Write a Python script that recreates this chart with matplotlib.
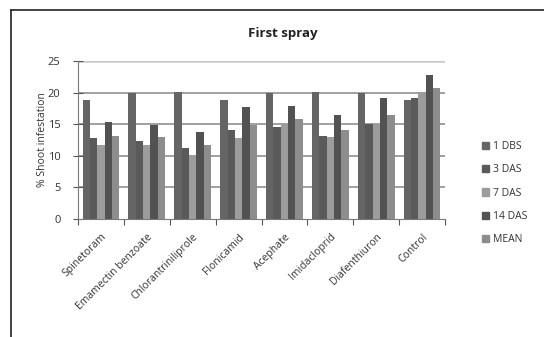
import matplotlib
matplotlib.use("Agg")
import matplotlib.pyplot as plt
import numpy as np
from matplotlib.lines import Line2D

categories = ["Spinetoram", "Emamectin benzoate", "Chlorantriniliprole", "Flonicamid",
              "Acephate", "Imidacloprid", "Diafenthiuron", "Control"]
series_names = ["1 DBS", "3 DAS", "7 DAS", "14 DAS", "MEAN"]
dbs1 = [18.9, 19.9, 20.1, 18.9, 19.9, 20.1, 19.9, 18.8]
das3 = [12.8, 12.3, 11.3, 14.1, 14.6, 13.2, 15.0, 19.2]
das7 = [11.7, 11.7, 10.2, 12.8, 15.0, 12.9, 15.0, 20.1]
das14 = [15.3, 14.9, 13.7, 17.8, 17.9, 16.5, 19.2, 22.8]
mean = [13.2, 12.9, 11.7, 14.9, 15.8, 14.1, 16.5, 20.7]
yticks = [0, 5, 10, 15, 20, 25]

colors = ["#656565", "#5a5a5a", "#9c9c9c", "#525252", "#8d8d8d"]
font = ["Open Sans", "DejaVu Sans"]
plt.rcParams["font.family"] = font

fig = plt.figure(figsize=(5.44, 3.37), dpi=100)
ax = fig.add_axes([78/544, 1-219/337, 367/544, 158/337])

data = [dbs1, das3, das7, das14, mean]
n = len(categories)
x = np.arange(n)
w = 0.16
offsets = (np.arange(5) - 2) * w
for i, (vals, c, name) in enumerate(zip(data, colors, series_names)):
    ax.bar(x + offsets[i], vals, width=w, color=c, label=name, zorder=3, linewidth=0)

ax.set_xlim(-0.5, n - 0.5)
ax.set_ylim(0, 25)
ax.set_yticks(yticks)
ax.set_yticklabels([str(t) for t in yticks], fontsize=8, color="#333333")
for t in [5, 10, 15, 20]:
    ax.axhline(t, color="#999999", lw=1.3, zorder=1)
ax.axhline(25, color="#c8c8c8", lw=1.8, zorder=1)

ax.set_xticks(np.arange(n + 1) - 0.5, minor=False)
ax.set_xticklabels([])
ax.set_xticks(x, minor=True)
ax.set_xticklabels(categories, minor=True, rotation=45, ha="right", rotation_mode="anchor",
                   fontsize=7.5, color="#333333")
ax.tick_params(axis="x", which="minor", length=0, pad=9)
ax.tick_params(axis="x", which="major", length=4, color="#555555", width=0.8)
ax.tick_params(axis="y", length=7, direction="inout", color="#555555", width=0.8, pad=9)

for s in ["top", "right"]:
    ax.spines[s].set_visible(False)
ax.spines["left"].set_color("#7a7a7a")
ax.spines["bottom"].set_color("#7a7a7a")

ax.set_ylabel("% Shoot infestation", fontsize=7.5, labelpad=0, color="#333333")
fig.text(283/544, 1-33/337, "First spray", ha="center", va="center", fontsize=9.5,
         fontweight="bold", color="#222222")

handles = [plt.Rectangle((0, 0), 1, 1, color=c) for c in colors]
leg = fig.legend(handles, series_names, loc="upper left",
                 bbox_to_anchor=(478/544, 1-137/337), frameon=False, fontsize=7.5,
                 handlelength=0.7, handleheight=0.7, handletextpad=0.3,
                 labelspacing=1.18, borderaxespad=0)
for t in leg.get_texts():
    t.set_color("#333333")

# outer frame
fig.add_artist(Line2D([11/544, 11/544], [0, 1-10/337], color="#222222", lw=1.2,
                      transform=fig.transFigure))
fig.add_artist(Line2D([11/544, 1], [1-10/337, 1-10/337], color="#222222", lw=1.2,
                      transform=fig.transFigure))

fig.savefig("out.png", dpi=100)
